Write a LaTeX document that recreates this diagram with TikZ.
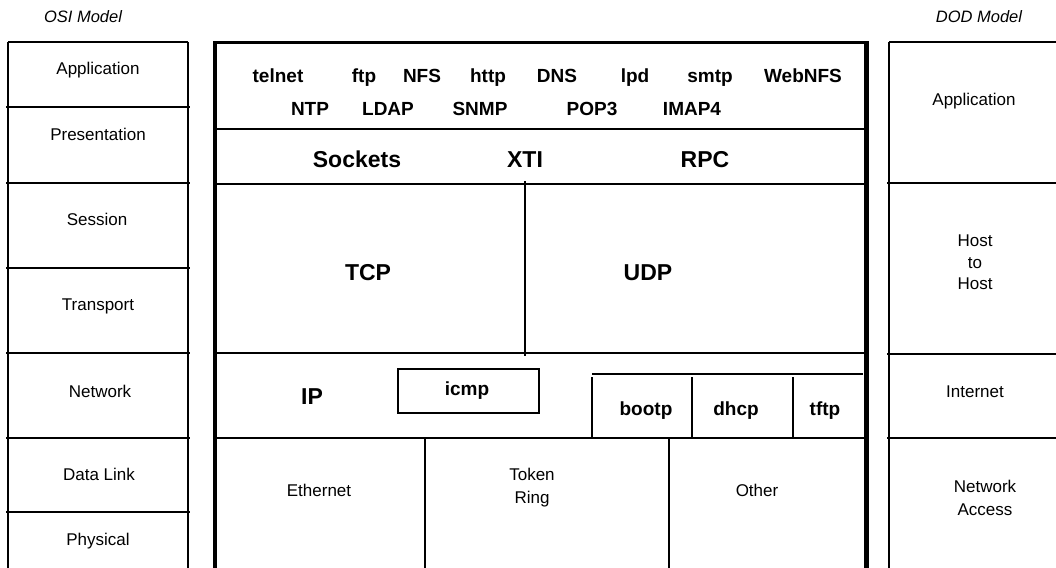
\documentclass[tikz,border=0pt]{standalone}
\usepackage{fontspec}
\setmainfont{Liberation Sans}
\begin{document}
\begin{tikzpicture}[x=1pt,y=-1pt,
  thinline/.style={line width=1.2pt},
  lbl/.style={font=\fontsize{17}{23}\selectfont, align=center, inner sep=0pt, anchor=base},
  lblm/.style={font=\fontsize{17}{23}\selectfont, align=center, inner sep=0pt},
  bigb/.style={font=\fontsize{23}{27}\selectfont\bfseries, inner sep=0pt, anchor=base},
  smb/.style={font=\fontsize{19}{22}\selectfont\bfseries, inner sep=0pt, anchor=base},
  ttl/.style={font=\fontsize{16.5}{19}\selectfont\itshape, inner sep=0pt, anchor=base}]
\useasboundingbox (0,0) rectangle (1056,567);
% titles
\node[ttl] (osi) at (83,23) {OSI Model};
\node[ttl] (dod) at (979,23) {DOD Model};
% left column
\draw[thinline] (8,42) -- (188,42);
\draw[thinline] (8,42) -- (8,570);
\draw[thinline] (188,42) -- (188,570);
\foreach \yy in {107,183,268,353,438,512} \draw[thinline] (6,\yy) -- (190,\yy);
\node[lbl] (l1) at (98,75) {Application};
\node[lbl] (l2) at (98,140) {Presentation};
\node[lbl] (l3) at (97,225) {Session};
\node[lbl] (l4) at (98,310) {Transport};
\node[lbl] (l5) at (100,397) {Network};
\node[lbl] (l6) at (99,480) {Data Link};
\node[lbl] (l7) at (98,545) {Physical};
% right column
\draw[thinline] (889,42) -- (1060,42);
\draw[thinline] (889,42) -- (889,570);
\foreach \yy in {183,354,438} \draw[thinline] (887,\yy) -- (1060,\yy);
\node[lbl] (r1) at (974,106) {Application};
\node[lblm, font=\fontsize{17}{21.5}\selectfont] (r2) at (975,262.5) {Host\\to\\Host};
\node[lbl] (r3) at (975,397) {Internet};
\node[lblm] (r4) at (985,497.5) {Network\\Access};
% center frame
\draw[line width=3.5pt] (215,41.5) -- (215,570);
\draw[line width=3pt] (213.5,43) -- (868,43);
\draw[line width=5pt] (866,41.5) -- (866,570);
\draw[thinline] (215,129) -- (866,129);
\draw[thinline] (215,184) -- (866,184);
\draw[thinline] (525,181) -- (525,356);
\draw[thinline] (215,353) -- (866,353);
\draw[thinline] (215,438) -- (866,438);
% applications
\node[smb] (telnet) at (278,83) {telnet};
\node[smb] (ftp) at (364,83) {ftp};
\node[smb] (nfs) at (422,83) {NFS};
\node[smb] (http) at (488,83) {http};
\node[smb] (dns) at (557,83) {DNS};
\node[smb] (lpd) at (635,83) {lpd};
\node[smb] (smtp) at (710,83) {smtp};
\node[smb] (webnfs) at (803,83) {WebNFS};
\node[smb] (ntp) at (310,115) {NTP};
\node[smb] (ldap) at (388,115) {LDAP};
\node[smb] (snmp) at (480,115) {SNMP};
\node[smb] (pop3) at (592,115) {POP3};
\node[smb] (imap4) at (692,115) {IMAP4};
% APIs
\node[bigb] (sockets) at (357,167) {Sockets};
\node[bigb] (xti) at (525,167) {XTI};
\node[bigb] (rpc) at (705,167) {RPC};
% transport
\node[bigb] (tcp) at (368,280) {TCP};
\node[bigb] (udp) at (648,280) {UDP};
% internet
\node[bigb] (ip) at (312,404) {IP};
\node[draw, thinline, minimum width=141pt, minimum height=44pt, inner sep=0pt] (icmpbox) at (468.5,391) {};
\node[smb] (icmp) at (467,395) {icmp};
\draw[thinline] (592,374) -- (863,374);
\foreach \xx in {592,692,793} \draw[thinline] (\xx,377) -- (\xx,438);
\node[smb] (bootp) at (646,415) {bootp};
\node[smb] (dhcp) at (736,415) {dhcp};
\node[smb] (tftp) at (825,415) {tftp};
% network access
\draw[thinline] (425,438) -- (425,570);
\draw[thinline] (669,438) -- (669,570);
\node[lbl] (eth) at (319,496) {Ethernet};
\node[lblm] (tok) at (532,488) {Token\\Ring};
\node[lbl] (oth) at (757,496) {Other};
\end{tikzpicture}
\end{document}
